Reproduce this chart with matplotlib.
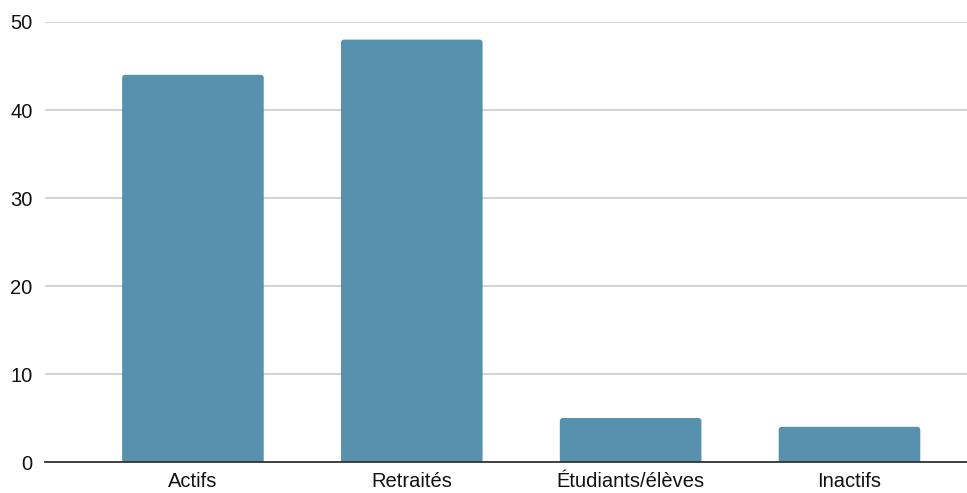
import matplotlib
matplotlib.use("Agg")
import matplotlib.pyplot as plt
from matplotlib.patches import FancyBboxPatch

categories = ["Actifs", "Retraités", "Étudiants/élèves", "Inactifs"]
values = [44, 48, 5, 4]
y_ticks = [0, 10, 20, 30, 40, 50]

BAR_COLOR = "#5891ae"

plt.rcParams["font.family"] = ["Liberation Sans", "DejaVu Sans"]

fig = plt.figure(figsize=(9.67, 4.93), dpi=100)
ax = fig.add_axes([45 / 967, 31 / 493, 922 / 967, 440 / 493])

xs = list(range(len(categories)))
ax.set_xlim(-0.676, 3.537)
ax.set_ylim(0, 50)

# pixel scale of each data unit, used for rounded bar tops
px_x = 922 / (3.537 + 0.676)
px_y = 440 / 50
radius = 3 / px_x
aspect = px_x / px_y

width = 0.647
for x, v in zip(xs, values):
    patch = FancyBboxPatch(
        (x - width / 2, -2), width, v + 2,
        boxstyle=f"round,pad=0,rounding_size={radius}",
        mutation_aspect=aspect,
        facecolor=BAR_COLOR, edgecolor="none", zorder=2,
    )
    ax.add_patch(patch)

ax.set_yticks(y_ticks)
ax.set_xticks(xs)
ax.set_xticklabels(categories)
ax.yaxis.grid(True, color="#cccccc", linewidth=1.2, zorder=0)
ax.set_axisbelow(True)

for side in ["top", "right", "left"]:
    ax.spines[side].set_visible(False)
ax.spines["bottom"].set_color("#333333")
ax.spines["bottom"].set_linewidth(1.3)
ax.spines["bottom"].set_zorder(3)

ax.tick_params(axis="both", length=0, labelsize=14.5, colors="#111111")
ax.tick_params(axis="y", pad=9)
ax.tick_params(axis="x", pad=7)

fig.savefig("out.png", dpi=100, facecolor="white")
